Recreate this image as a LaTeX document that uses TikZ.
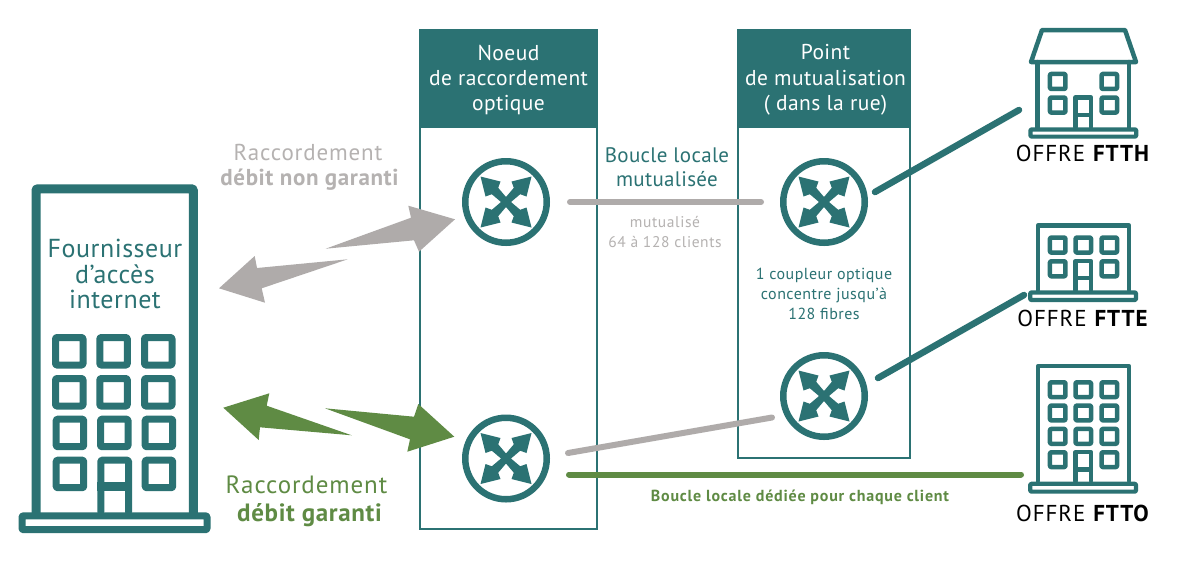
\documentclass[tikz,border=0pt]{standalone}
\usepackage{fontspec}
\setmainfont{PT Sans}
\usetikzlibrary{calc}
\definecolor{teal1}{HTML}{2B7273}
\definecolor{green1}{HTML}{5F8B44}
\definecolor{gray1}{HTML}{AFABAA}
\definecolor{gray2}{HTML}{B5B2B1}
\newcommand{\fs}[3]{\fontsize{#1}{#2}\selectfont\addfontfeatures{LetterSpace=#3}}
\newcommand{\fsb}[3]{\fontsize{#1}{#2}\selectfont\bfseries\addfontfeatures{LetterSpace=#3}}
\tikzset{
  x=1pt,y=-1pt,
  panel/.style={draw=teal1,line width=2pt,fill=white},
  header/.style={fill=teal1,draw=teal1,line width=2pt},
  routernode/.style={circle,draw=teal1,line width=6.5pt,minimum size=81.5pt,inner sep=0pt,fill=white},
  wire/.style={line width=6pt,line cap=round},
  greyarrow/.style={fill=gray1,draw=none},
  greenarrow/.style={fill=green1,draw=none},
  bld/.style={draw=teal1,line join=round,line cap=round},
  headtxt/.style={text=white,align=center,font=\fs{21.5}{25.5}{2}},
  lbl/.style={align=center,inner sep=0pt},
  offre/.style={inner sep=0pt,text=black,font=\fs{23}{25}{4}},
}
% window: left, top, right, bottom of outer edge, line width
\newcommand{\win}[5]{\draw[bld,line width=#5pt,rounded corners=1pt] (#1+#5/2,#2+#5/2) rectangle (#3-#5/2,#4-#5/2);}
\newcommand{\routerglyph}[1]{%
  \foreach \a in {0,90,180,270}{%
    \fill[teal1,shift={(#1)},rotate=\a] (0,-5) -- (7.8,-14.2) -- (5.5,-20.5) -- (25.5,-25.5) -- (20.5,-5.5) -- (14.2,-7.8) -- (5,0) -- (0,5) -- (-5,0) -- cycle;
  }%
}
\begin{document}
\begin{tikzpicture}
\fill[white] (0,0) rectangle (1180,566);
\useasboundingbox (0,0) rectangle (1180,566);

% panels
\draw[panel] (420,30) rectangle (597,529);
\draw[header] (420,31) rectangle (597,127);
\draw[panel] (738,30) rectangle (910,458);
\draw[header] (738,31) rectangle (910,127);
\node[headtxt] (nrotitle) at (508.5,80) {Noeud\\de raccordement\\optique};
\node[headtxt] (pmtitle) at (825.5,80) {Point\\de mutualisation\\( dans la rue)};

% routers
\node[routernode] (r1) at (506,202) {};
\node[routernode] (r2) at (824,202) {};
\node[routernode] (r3) at (506,458.5) {};
\node[routernode] (r4) at (824,396) {};
\foreach \n in {r1,r2,r3,r4}{\routerglyph{\n}}

% free ends
\coordinate (a3) at (568,453);
\coordinate (a4) at (772,417.5);
\coordinate (g3) at (569,474.5);
\coordinate (ftth) at (1019,110);
\coordinate (ftte) at (1024,295);
\coordinate (ftto) at (1021,474.5);
\coordinate (b2) at (875,192);
\coordinate (b4) at (878,378);

% connectors
\draw[wire,gray1,shorten >=19pt,shorten <=20pt] (r1) -- (r2);
\draw[wire,gray1] (a3) -- (a4);
\draw[wire,green1] (g3) -- (ftto);
\draw[wire,teal1,line width=6.5pt] (b2) -- (ftth);
\draw[wire,teal1,line width=6.5pt] (b4) -- (ftte);

% big arrows
\fill[greyarrow] (325.7,248.7) -- (411,217.7) -- (408.3,205.7) -- (455,219.3) -- (419,251.7) -- (414,240.3) -- cycle;
\fill[greyarrow] (347.7,259.3) -- (257,268) -- (254.7,256) -- (219,288.3) -- (265,302.7) -- (261.7,288.3) -- cycle;
\fill[greenarrow] (325,408.3) -- (414,416.7) -- (418.3,404) -- (454.3,436.7) -- (407.3,451.7) -- (410,439.3) -- cycle;
\fill[greenarrow] (351.7,435.3) -- (260,427.3) -- (258.7,440) -- (223.3,407.7) -- (269.3,393.3) -- (266.7,405.7) -- cycle;

% texts
\node[lbl,text=gray2,font=\fs{23}{28}{3.6}] (t1) at (308,152) {Raccordement};
\node[lbl,text=gray2,font=\fsb{23}{28}{2.6}] (t2) at (309.5,180) {débit non garanti};
\node[lbl,text=green1,font=\fs{25}{28}{3.6}] (t3) at (306.5,485) {Raccordement};
\node[lbl,text=green1,font=\fsb{25}{28}{2.6}] (t4) at (309.5,515) {débit garanti};
\node[lbl,text=teal1,font=\fs{21}{24}{1.5}] (t5) at (667,167) {Boucle locale\\mutualisée};
\node[lbl,text=gray2,font=\fs{15.5}{20}{3.9}] (t6) at (665,232) {mutualisé\\64 à 128 clients};
\node[lbl,text=teal1,font=\fs{16}{20}{3}] (t7) at (824,294) {1 coupleur optique\\concentre jusqu’à\\128 fibres};
\node[lbl,text=green1,font=\fsb{16}{18}{4.9}] (t8) at (800,497) {Boucle locale dédiée pour chaque client};

% left building
\draw[bld,line width=9pt,rounded corners=1pt] (36,514) -- (36,188.8) -- (193.3,188.8) -- (193.3,514);
\draw[bld,line width=7pt,rounded corners=1pt,fill=white] (22,515.8) rectangle (207,529.7);
\node[lbl,text=teal1,font=\fs{26}{25.5}{2}] (fai) at (115,274) {Fournisseur\\d’accès\\internet};
\foreach \x/\y in {52/334,96.3/334,141/334,52/375,96.3/375,141/375,52.7/415.7,97/415.7,141.7/415.7,52.7/456.7,141.7/456.7}{
  \win{\x}{\y}{\x+34.5}{\y+34.5}{7}
}
\draw[bld,line width=7pt,rounded corners=1pt] (100.8,512) -- (100.8,460.2) -- (128.5,460.2) -- (128.5,512);
\draw[bld,line width=9pt,line cap=butt] (97.3,486.3) -- (132,486.3);

% FTTH
\draw[bld,line width=4.5pt] (1031,62) -- (1042,30) -- (1125,30) -- (1136,62) -- cycle;
\draw[bld,line width=4.5pt] (1037.7,62) -- (1037.7,128) (1129,62) -- (1129,128);
\draw[bld,line width=4.2pt,rounded corners=1pt] (1030.4,129.4) rectangle (1136.2,136.6);
\foreach \x/\y in {1047.7/71.7,1099.3/71.7,1047.7/95.3,1099.3/95.3}{
  \win{\x}{\y}{\x+20}{\y+19.5}{4.5}
}
\draw[bld,line width=4.5pt] (1075.5,127) -- (1075.5,97.5) -- (1091,97.5) -- (1091,127);
\draw[bld,line width=4.5pt,line cap=butt] (1073.3,115) -- (1093.3,115);
\node[offre] (lh) at (1083,153) {OFFRE \textbf{FTTH}};

% FTTE
\draw[bld,line width=4.5pt] (1037.9,290) -- (1037.9,225.5) -- (1129,225.5) -- (1129,290);
\draw[bld,line width=4.2pt,rounded corners=1pt] (1030.2,292.4) rectangle (1136,300);
\foreach \x/\y in {1047.7/235.3,1073.3/235.3,1099.3/235.3,1047.7/259,1099.3/259}{
  \win{\x}{\y}{\x+20}{\y+19.5}{4.5}
}
\draw[bld,line width=4.5pt] (1075.5,290) -- (1075.5,261.2) -- (1091,261.2) -- (1091,290);
\draw[bld,line width=4.5pt,line cap=butt] (1073.3,278) -- (1093.3,278);
\node[offre] (le) at (1083,318) {OFFRE \textbf{FTTE}};

% FTTO
\draw[bld,line width=4.5pt] (1037.9,481) -- (1037.9,366.2) -- (1129,366.2) -- (1129,481);
\draw[bld,line width=4.2pt,rounded corners=1pt] (1030.2,483.8) rectangle (1136,491.6);
\foreach \x/\y in {1047.7/380,1073.3/380,1099.3/380,1047.7/403.3,1073.3/403.3,1099.3/403.3,1047.7/426.7,1073.3/426.7,1099.3/426.7,1047.7/450,1099.3/450}{
  \win{\x}{\y}{\x+20}{\y+19.3}{4.5}
}
\draw[bld,line width=4.5pt] (1075.5,481) -- (1075.5,452.2) -- (1091,452.2) -- (1091,481);
\draw[bld,line width=4.5pt,line cap=butt] (1073.3,469.5) -- (1093.3,469.5);
\node[offre] (lo) at (1083,513) {OFFRE \textbf{FTTO}};
\end{tikzpicture}
\end{document}
